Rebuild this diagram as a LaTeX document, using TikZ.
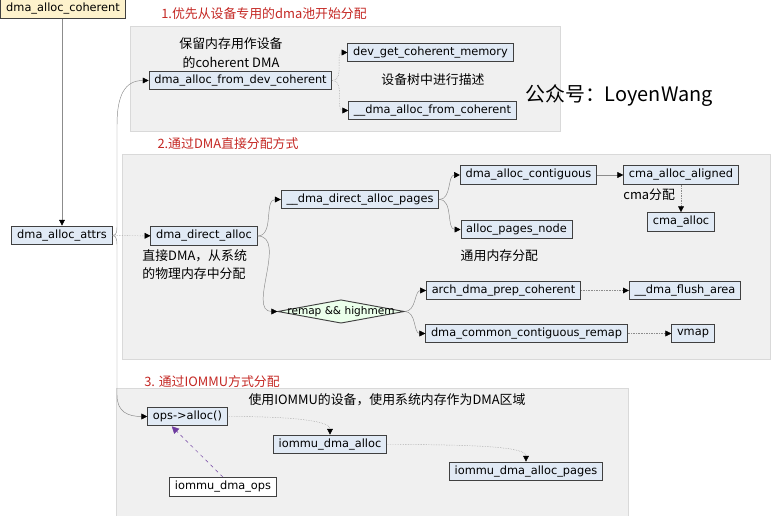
\documentclass[tikz,border=0pt]{standalone}
\usepackage{fontspec}
\setmainfont{DejaVu Sans}
\newfontfamily\cjk{Noto Sans CJK SC}
\usetikzlibrary{positioning,shapes.geometric,arrows.meta}
\definecolor{fnblue}{RGB}{225,234,245}
\definecolor{fnyellow}{RGB}{253,242,204}
\definecolor{panelgray}{RGB}{240,240,240}
\definecolor{titlered}{RGB}{196,40,36}
\definecolor{opspurple}{RGB}{110,60,160}
\tikzset{%
  fn/.style={draw=black!75,fill=fnblue,line width=.8pt,font=\fontsize{9.7}{11}\selectfont,
    inner xsep=4.5pt,inner ysep=0pt,minimum height=16pt},
  entry/.style={fn,fill=fnyellow},
  ext/.style={fn,fill=white},
  cond/.style={diamond,draw=black!75,fill=green!8,line width=.8pt,inner sep=0pt,
    minimum width=108pt,minimum height=20pt,font=\fontsize{9}{10}\selectfont},
  panel/.style={fill=panelgray,draw=black!15},
  title/.style={color=titlered,font=\cjk\fontsize{11}{13}\selectfont},
  note/.style={font=\cjk\fontsize{11}{15.4}\selectfont,inner sep=1pt},
  link/.style={draw=black!45,-{Triangle[length=5pt,width=5pt,color=black]}},
  dlink/.style={link,densely dotted},
  plink/.style={draw=opspurple,dashed,-{Triangle[length=6pt,width=6pt,color=opspurple]}}
}
\begin{document}
\begin{tikzpicture}[x=0.03cm,y=-0.03cm]
  \useasboundingbox (0,0) rectangle (772,516);
  % panels
  \draw[panel] (130,26) rectangle (560,131);
  \draw[panel] (122,154) rectangle (770,359);
  \draw[panel] (116,388) rectangle (628,530);

  \node[title] (t1) at (264,14) {1.优先从设备专用的dma池开始分配};
  \node[title] (t2) at (228,144) {2.通过DMA直接分配方式};
  \node[title] (t3) at (212,382) {3. 通过IOMMU方式分配};

  \node[entry] (coh) at (63,9) {dma\_alloc\_coherent};
  \node[fn] (attrs) at (62,235.5) {dma\_alloc\_attrs};

  % 1. coherent pool
  \node[fn] (fromdev) at (240.5,80.5) {dma\_alloc\_from\_dev\_coherent};
  \node[fn] (getmem) at (430.5,52.5) {dev\_get\_coherent\_memory};
  \node[fn] (fromcoh) at (432.5,110.5) {\_\_dma\_alloc\_from\_coherent};
  \node[note,align=center] (n1) at (231,53) {保留内存用作设备\\的coherent DMA};
  \node[note] (n2) at (433,80) {设备树中进行描述};
  \node[font=\cjk\fontsize{17}{20}\selectfont] (wm) at (619,96) {公众号：LoyenWang};

  % 2. direct
  \node[fn] (direct) at (204,236) {dma\_direct\_alloc};
  \node[note,align=left,anchor=west] (n4) at (141,265) {直接DMA，从系统\\的物理内存中分配};
  \node[fn] (pages) at (360,199.5) {\_\_dma\_direct\_alloc\_pages};
  \node[fn] (contig) at (528.5,175) {dma\_alloc\_contiguous};
  \node[fn] (aligned) at (681,175) {cma\_alloc\_aligned};
  \node[fn] (cma) at (681,222) {cma\_alloc};
  \node[note,below right=2pt and -1pt of aligned.south west] (n5) {cma分配};
  \node[fn] (pnode) at (516.5,229.5) {alloc\_pages\_node};
  \node[note,below right=8pt and -1pt of pnode.south west] (n6) {通用内存分配};
  \node[cond] (remap) at (341,311.5) {\makebox[0pt]{remap \&\& highmem}};
  \node[fn] (prep) at (503.5,290.5) {arch\_dma\_prep\_coherent};
  \node[fn] (flush) at (685,290.5) {\_\_dma\_flush\_area};
  \node[fn] (ccremap) at (526.5,333.5) {dma\_common\_contiguous\_remap};
  \node[fn] (vmap) at (693,333.5) {vmap};

  % 3. iommu
  \node[note] (n7) at (387,400) {使用IOMMU的设备，使用系统内存作为DMA区域};
  \node[fn] (ops) at (187.5,416.5) {ops->alloc()};
  \node[fn] (ialloc) at (330,444.5) {iommu\_dma\_alloc};
  \node[fn] (ipages) at (526,471.5) {iommu\_dma\_alloc\_pages};
  \node[ext] (iops) at (223,487) {iommu\_dma\_ops};

  % connectors
  \draw[link] (coh.south -| attrs.north) -- (attrs.north);
  \draw[dlink] (attrs) -- (direct);
  \draw[link] (attrs.east) .. controls +(5,0) and +(0,8) .. (117,222) -- (117,125)
    .. controls (117,95) and (125,80.5) .. (fromdev.west);
  \draw[link] (attrs.east) .. controls +(5,0) and +(0,-8) .. (117,250) -- (117,395)
    .. controls (117,412) and (128,416.5) .. (ops.west);
  \draw[dlink] (fromdev.east) to[out=0,in=180] (getmem.west);
  \draw[dlink] (fromdev.east) to[out=0,in=180] (fromcoh.west);
  \draw[link] (direct.east) to[out=0,in=180] (pages.west);
  \draw[link] (direct.east) to[out=0,in=180] (remap.west);
  \draw[link] (pages.east) to[out=0,in=180] (contig.west);
  \draw[link] (pages.east) to[out=0,in=180] (pnode.west);
  \draw[link] (contig) -- (aligned);
  \draw[dlink] (aligned) -- (cma);
  \draw[link] (remap.east) to[out=0,in=180] (prep.west);
  \draw[link] (remap.east) to[out=0,in=180] (ccremap.west);
  \draw[dlink] (prep) -- (flush);
  \draw[dlink] (ccremap) -- (vmap);
  \draw[dlink] (ops.east) .. controls +(80,0) and +(0,-12) .. (ialloc.north);
  \draw[dlink] (ialloc.east) .. controls +(100,0) and +(0,-14) .. (ipages.north);
  \draw[plink] (iops.north) -- (ops.-148);
\end{tikzpicture}
\end{document}
